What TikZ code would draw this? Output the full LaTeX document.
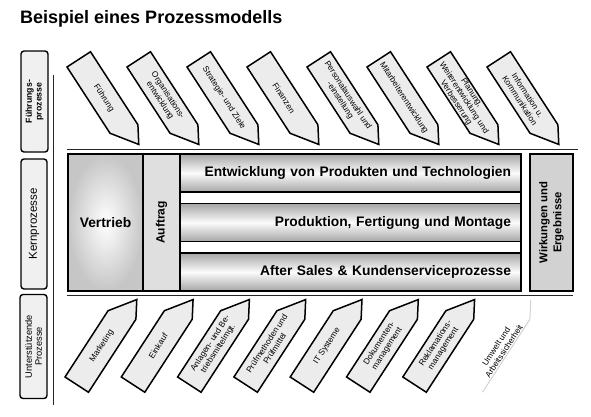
\documentclass[tikz,border=0pt]{standalone}
\usepackage{fontspec}
\setmainfont{Liberation Sans}
\usepackage{tikz}

\begin{document}
\begin{tikzpicture}[
    x=1pt, y=-1pt,
    labelbox/.style={rectangle, draw=black, fill=gray!12, line width=1.4pt, rounded corners=3pt, inner sep=0pt, align=center},
    rowbox/.style={rectangle, draw=black, line width=1.6pt, top color=gray!70, bottom color=gray!70, middle color=gray!3, minimum width=341pt, minimum height=38pt, text width=321pt, inner xsep=10pt, inner ysep=0pt, align=right, font=\fontsize{13.8}{16}\selectfont\bfseries},
    corebox/.style={rectangle, draw=black, line width=1.6pt, inner sep=0pt, align=center, font=\bfseries},
    pencil/.style={draw=black, line width=1.5pt, fill=gray!15},
    pentext/.style={align=center, inner sep=0pt, font=\fontsize{8.3}{9.3}\selectfont},
    thinline/.style={draw=black!85, line width=1pt}
]
    \useasboundingbox (0,0) rectangle (591,417);

    \node[anchor=west, inner sep=0pt, font=\fontsize{18}{21}\selectfont\bfseries] (title) at (20,19) {Beispiel eines Prozessmodells};

    % left column
    \node[labelbox, rotate=90, minimum width=101pt, minimum height=27pt, font=\fontsize{8.7}{9.5}\selectfont\bfseries] (fuehr) at (34.5,101.5) {Führungs-\\prozesse};
    \node[labelbox, rotate=90, minimum width=130pt, minimum height=26pt, font=\fontsize{11.5}{13}\selectfont] (kern) at (34,224) {Kernprozesse};
    \node[labelbox, rotate=90, minimum width=104pt, minimum height=27pt, font=\fontsize{9.3}{10}\selectfont] (unter) at (33.5,346.5) {Unterstützende\\Prozesse};
    \draw[thinline] (53,75) -- (53,405);

    \draw[thinline] (67,149) -- (578,149);
    \draw[thinline] (67,295) -- (573,295);

    % core processes
    \node[corebox, inner color=white, outer color=gray!45, minimum width=75pt, minimum height=137pt, font=\fontsize{13.8}{16}\selectfont\bfseries] (vertrieb) at (105.5,222.5) {Vertrieb};
    \node[corebox, fill=gray!25, rotate=90, minimum width=137pt, minimum height=37pt, font=\fontsize{12}{14}\selectfont\bfseries] (auftrag) at (161.5,222.5) {Auftrag};
    \node[rowbox] (row1) at (350.5,173) {Entwicklung von Produkten und Technologien};
    \node[rowbox] (row2) at (350.5,222.5) {Produktion, Fertigung und Montage};
    \node[rowbox] (row3) at (350.5,272) {After Sales \& Kundenserviceprozesse};
    \draw[line width=1.6pt] (68,154) rectangle (521,291);
    \node[corebox, fill=gray!35, rotate=90, minimum width=137pt, minimum height=43pt, font=\fontsize{11.3}{14}\selectfont\bfseries] (wirk) at (551.5,222.5) {Wirkungen und\\Ergebnisse};

    % Fuehrungsprozesse
    \foreach \txt [count=\i from 0] in {Führung, {Organisations-\\entwicklung}, {Strategie- und Ziele}, Finanzen, {Personalauswahl und\\-einstellung}, Mitarbeiterentwicklung, {Planung,\\Weiterentwicklung und\\Verbesserung}, {Information u.\\Kommunikation}}
    {
        \begin{scope}[shift={(67+60*\i,67)}, x={(0.545pt,-0.839pt)}, y={(0.839pt,0.545pt)}]
            \draw[pencil] (0,0) -- (0,28) -- (87,28) -- (104,18) -- (79,0) -- cycle;
            \node[pentext, rotate=-57] (top\i) at (46,14) {\txt};
        \end{scope}
    }

    % unterstuetzende Prozesse
    \foreach \txt [count=\i from 0] in {Marketing, Einkauf, {Anlagen- und Be-\\triebsmittelmgt.}, {Prüfmethoden und\\Prüfmittel}, {IT Systeme}, {Dokumenten-\\management}, {Reklamations-\\management}}
    {
        \begin{scope}[shift={(65+56.3*\i,377)}, x={(0.545pt,0.839pt)}, y={(0.839pt,-0.545pt)}]
            \draw[pencil] (0,0) -- (0,28) -- (87,28) -- (104,18) -- (79,0) -- cycle;
            \node[pentext, rotate=57] (bot\i) at (46,14) {\txt};
        \end{scope}
    }
    \begin{scope}[shift={(459,377)}, x={(0.545pt,0.839pt)}, y={(0.839pt,-0.545pt)}]
        \draw[gray!35, line width=1pt] (0,28) -- (87,28) -- (104,18);
        \node[pentext, rotate=57] (bot7) at (46,19) {Umwelt und\\Arbeitssicherheit};
    \end{scope}
\end{tikzpicture}
\end{document}
